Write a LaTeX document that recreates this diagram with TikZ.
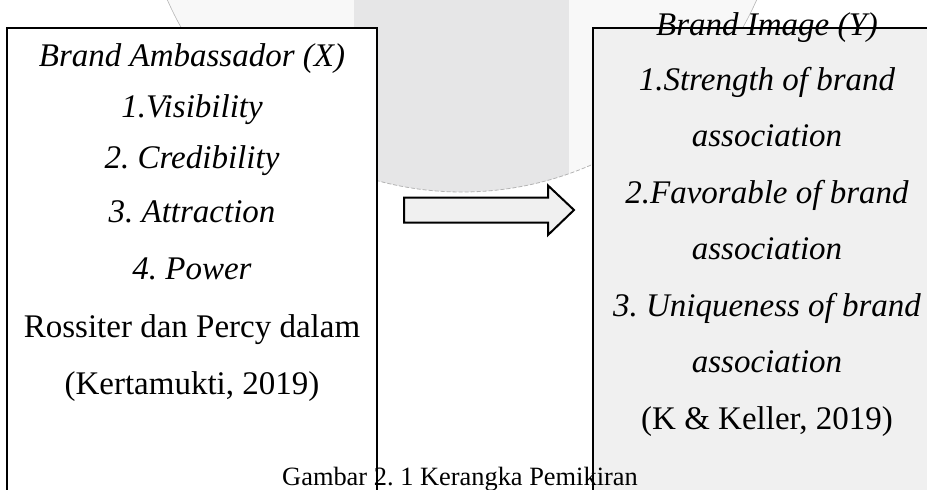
\documentclass[tikz,border=0pt]{standalone}
\usepackage{fontspec}
\setmainfont{Liberation Serif}
\usepackage{tikz}
\usetikzlibrary{calc}
\frenchspacing
\definecolor{boxgray}{HTML}{F0F0F0}
\definecolor{markgray}{HTML}{E6E6E7}
\definecolor{markpale}{HTML}{F8F8F8}
\definecolor{markline}{HTML}{B4B4B4}
\tikzset{
    framebox/.style={rectangle,draw=black,line width=2pt,inner sep=0pt},
    textline/.style={anchor=base,inner sep=0pt,font=\fontsize{33}{40}\selectfont},
    itline/.style={textline,font=\fontsize{33}{40}\selectfont\itshape},
    captionline/.style={anchor=base,inner sep=0pt,font=\fontsize{26.4}{32}\selectfont},
    blockarrow/.style={draw=black,fill=boxgray,line width=2pt,line join=miter},
}
\begin{document}
\begin{tikzpicture}[x=1pt,y=-1pt]
            \useasboundingbox (0,0) rectangle (927,490);
            \clip (0,0) rectangle (927,490);
            % faint mark behind the boxes
            \fill[markpale] (462,-130) circle (322);
            \begin{scope}
                \clip (462,-130) circle (322);
                \fill[markgray] (354,-460) rectangle (569,200);
            \end{scope}
            \draw[markline,line width=0.6pt] (462,-130) ++(120:322) arc (120:420:322);
            \draw[markline,line width=0.8pt,dashed,dash pattern=on 4pt off 2pt] (462,-130) ++(60:322) arc (60:120:322);
            % boxes
            \node[framebox,fill=white,minimum width=370,minimum height=472] (ambassador) at (192,264) {};
            \node[framebox,fill=boxgray,minimum width=352,minimum height=472] (image) at (769,264) {};
            % left texts
            \node[itline] (ba) at (192,66) {Brand Ambassador (X)};
            \node[itline] (vis) at (192,117) {1.Visibility};
            \node[itline] (cred) at (192,168) {2. Credibility};
            \node[itline] (attr) at (192,222) {3. Attraction};
            \node[itline] (pow) at (192,279) {4. Power};
            \node[textline] (ross) at (192,337) {Rossiter dan Percy dalam};
            \node[textline] (kert) at (192,394) {(Kertamukti, 2019)};
            % right texts
            \node[itline] (bi) at (767,35) {Brand Image (Y)};
            \node[itline] (str) at (767,90) {1.Strength of brand};
            \node[itline] (as1) at (767,146) {association};
            \node[itline] (fav) at (767,203) {2.Favorable of brand};
            \node[itline] (as2) at (767,259) {association};
            \node[itline] (uni) at (767,316) {3. Uniqueness of brand};
            \node[itline] (as3) at (767,372) {association};
            \node[textline] (kel) at (767,429) {(K \& Keller, 2019)};
            % arrow
            \coordinate (arrtail) at (404,210);
            \coordinate (arrtip) at (574,210);
            \draw[blockarrow] (arrtail) ++(0,-12.5) -- ++(144,0) -- ++(0,-12) -- (arrtip)
                -- ++(-26,25) -- ++(0,-12.5) -- ++(-144,0) -- cycle;
            \node[captionline] (cap) at (460,485) {Gambar 2. 1 Kerangka Pemikiran};
        \end{tikzpicture}
\end{document}
